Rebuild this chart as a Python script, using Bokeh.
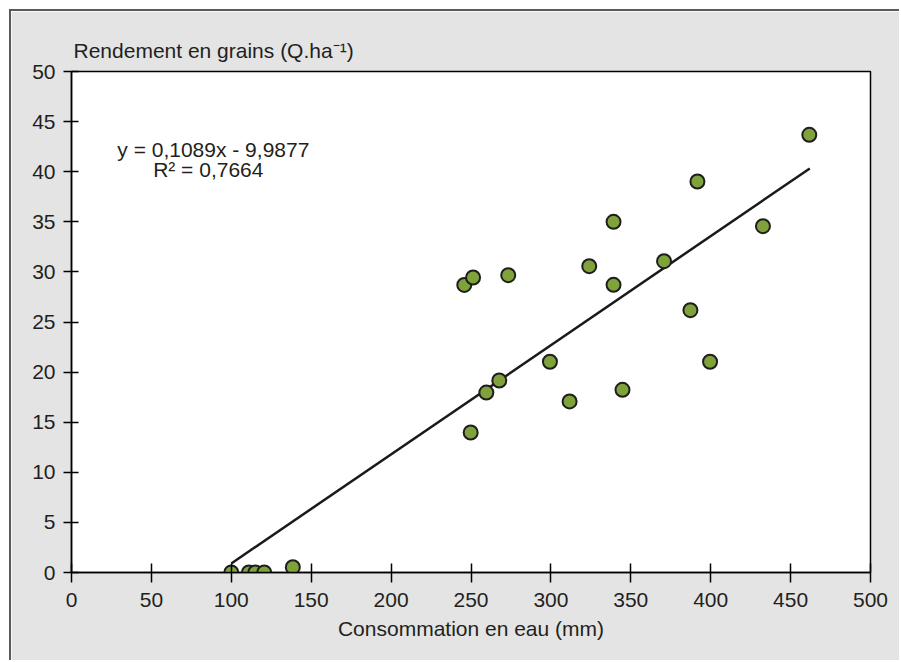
from bokeh.plotting import figure
from bokeh.models import Range1d, FixedTicker, Label
from bokeh.embed import file_html
from bokeh.resources import INLINE

# Data
consommation = [100, 111, 115, 120.6, 138.5, 245.8, 249.8, 251.3, 259.6, 267.7,
                273.3, 299.4, 311.7, 324.0, 339.2, 339.2, 344.8, 370.8, 387.3,
                391.7, 399.6, 432.7, 461.7]
rendement = [0.0, 0.0, 0.0, 0.0, 0.53, 28.7, 13.97, 29.44, 17.96, 19.16,
             29.67, 21.03, 17.07, 30.57, 35.0, 28.71, 18.23, 31.07, 26.18,
             39.02, 21.03, 34.56, 43.68]

# Trend line as printed on the chart
slope = 0.1089
intercept = -9.9877
trend_x = [100, 462]

x_ticks = [0, 50, 100, 150, 200, 250, 300, 350, 400, 450, 500]
y_ticks = [0, 5, 10, 15, 20, 25, 30, 35, 40, 45, 50]

x_title = "Consommation en eau (mm)"
y_title = "Rendement en grains (Q.ha\u207b\u00b9)"
eq_line1 = "y = 0,1089x - 9,9877"
eq_line2 = "R\u00b2 = 0,7664"

FONT = "Liberation Sans"
TXT = "#231f20"
BG = "#e4e4e4"
FS = "21px"

p = figure(
    frame_width=799, frame_height=501,
    min_border_left=60, min_border_top=60, min_border_right=29, min_border_bottom=88,
    x_range=Range1d(0, 500), y_range=Range1d(0, 50),
    output_backend="svg", toolbar_location=None, tools="",
    background_fill_color="white", border_fill_color=BG,
    margin=(9, 0, 0, 9),
)
p.styles = {"border-top": "2px solid #5a5a5a", "border-left": "2px solid #5a5a5a"}

p.title.text = y_title
p.title.align = "left"
p.title.offset = 2
p.title.standoff = 20
p.title.text_font = FONT
p.title.text_font_size = FS
p.title.text_font_style = "normal"
p.title.text_color = TXT

p.outline_line_color = "black"
p.outline_line_width = 1.5
p.xgrid.visible = False
p.ygrid.visible = False

for ax in (p.xaxis[0], p.yaxis[0]):
    ax.axis_line_color = "black"
    ax.axis_line_width = 1.5
    ax.major_tick_line_color = "black"
    ax.major_tick_line_width = 1.5
    ax.minor_tick_line_color = None
    ax.major_label_text_font = FONT
    ax.major_label_text_font_size = FS
    ax.major_label_text_color = TXT

p.xaxis.ticker = FixedTicker(ticks=x_ticks)
p.yaxis.ticker = FixedTicker(ticks=y_ticks)
p.xaxis.major_tick_in = 9
p.xaxis.major_tick_out = 10
p.yaxis.major_tick_in = 7
p.yaxis.major_tick_out = 8
p.xaxis.major_label_standoff = 10
p.yaxis.major_label_standoff = 8

p.xaxis.axis_label = x_title
p.xaxis.axis_label_text_font = FONT
p.xaxis.axis_label_text_font_size = FS
p.xaxis.axis_label_text_font_style = "normal"
p.xaxis.axis_label_text_color = TXT
p.xaxis.axis_label_standoff = 7

trend_y = [slope * v + intercept for v in trend_x]
p.line(trend_x, trend_y, line_color="#1a1a1a", line_width=2.5)

p.scatter(consommation, rendement, size=14, fill_color="#7fa23a",
          line_color="#1e1e1e", line_width=2)

p.add_layout(Label(x=88.75, y=42.2, text=eq_line1, text_font=FONT,
                   text_font_size=FS, text_color=TXT, text_align="center",
                   text_baseline="alphabetic"))
p.add_layout(Label(x=85.6, y=40.25, text=eq_line2, text_font=FONT,
                   text_font_size=FS, text_color=TXT, text_align="center",
                   text_baseline="alphabetic"))

open("out.html", "w").write(file_html(p, INLINE))
